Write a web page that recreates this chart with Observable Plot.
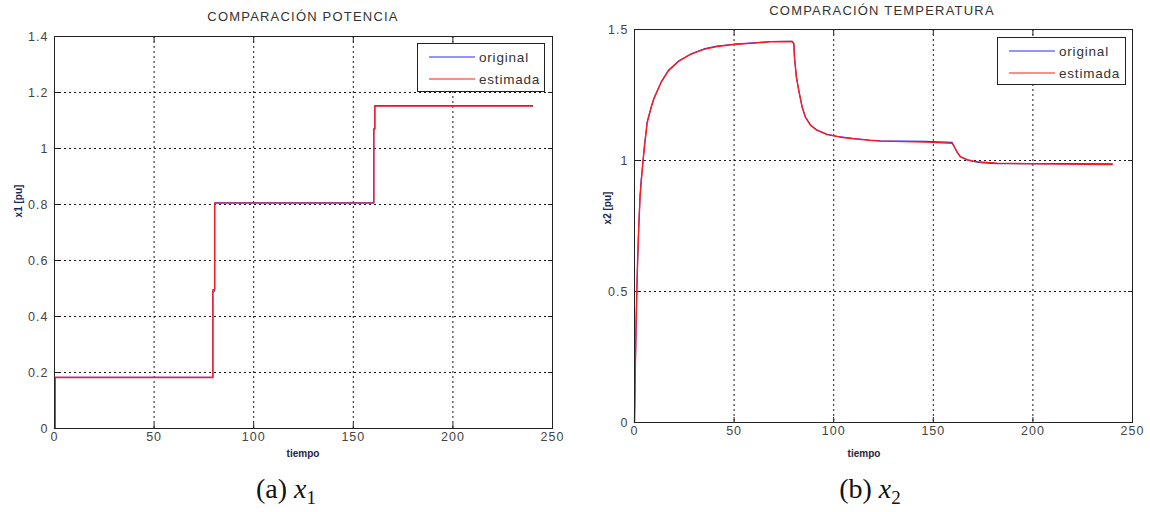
<!DOCTYPE html>
<html>
<head>
<meta charset="utf-8">
<script src="https://cdn.jsdelivr.net/npm/d3@7"></script>
<script src="https://cdn.jsdelivr.net/npm/@observablehq/plot@0.6"></script>
<style>
  body { margin: 0; background: #fff; width: 1150px; height: 512px; position: relative; overflow: hidden;
         font-family: "Liberation Sans", Arial, sans-serif; }
  .abs { position: absolute; white-space: nowrap; }
  .title { font-size: 13px; color: #333; letter-spacing: 1.2px; transform: translate(-50%, -50%); }
  .xlab { font-size: 10px; font-weight: bold; color: #1c2442; transform: translate(-50%, -50%); }
  .ylab { font-size: 10px; font-weight: bold; color: #1c2a55; transform: translate(-50%, -50%) rotate(-90deg); }
  .cap { font-family: "Liberation Serif", "DejaVu Serif", serif; font-size: 28px; color: #111; transform: translate(-50%, -50%); }
  .cap sub { font-size: 19px; font-style: normal; vertical-align: -6px; }
  .legend { position: absolute; background: #fff; border: 1px solid #222; box-sizing: border-box; }
  .legend svg { position: absolute; left: 0; top: 0; }
  .panel { position: absolute; top: 0; }
</style>
</head>
<body>
<div id="left" class="panel" style="left:0"></div>
<div id="right" class="panel" style="left:575px"></div>
<script>
// Shared tick values
const timeTicks = [0, 50, 100, 150, 200, 250];
const powerTicks = [0, 0.2, 0.4, 0.6, 0.8, 1, 1.2, 1.4];
const tempTicks = [0, 0.5, 1, 1.5];

// x1 (potencia): step changes at t = 80 and t = 160
const powerTime      = [0, 0.3,   79.5,  80.4,  160.3, 160.8, 240];
const powerOriginal  = [0, 0.183, 0.49,  0.806, 1.07,  1.153, 1.153];
const powerEstimated = [0, 0.182, 0.496, 0.805, 1.07,  1.152, 1.152];

// x2 (temperatura)
const tempTime = [0, 0.4, 0.8, 1.2, 1.6, 2.1, 2.8, 3.4, 4.3, 5.0, 6.4, 8.5, 9.7, 13.4, 17.2, 22.3, 28.1,
  34.8, 41.5, 49.9, 59.9, 68.3, 79.2, 80.0, 80.3, 81.3, 82.5, 84.2, 85.8, 88.4, 91.7, 96.7, 103.4,
  110, 118, 123.5, 146.1, 159.5, 160.6, 162, 163.6, 167, 170.3, 173.7, 182, 214, 239.8];
const tempOriginal = [0, 0.2, 0.37, 0.51, 0.62, 0.74, 0.87, 0.93, 1.0, 1.06, 1.148, 1.207, 1.237, 1.3, 1.346,
  1.381, 1.406, 1.426, 1.437, 1.444, 1.449, 1.454, 1.455, 1.446, 1.393, 1.316, 1.265, 1.202, 1.166, 1.135,
  1.116, 1.1, 1.09, 1.084, 1.078, 1.075, 1.073, 1.069, 1.052, 1.031, 1.014, 1.002, 0.996, 0.992, 0.988,
  0.988, 0.987];
const tempEstimated = [0, 0.21, 0.38, 0.52, 0.63, 0.74, 0.86, 0.92, 1.0, 1.05, 1.146, 1.206, 1.235, 1.299,
  1.344, 1.379, 1.405, 1.424, 1.435, 1.443, 1.448, 1.453, 1.454, 1.445, 1.394, 1.318, 1.267, 1.203, 1.165,
  1.134, 1.115, 1.099, 1.089, 1.083, 1.077, 1.074, 1.07, 1.066, 1.051, 1.032, 1.015, 1.003, 0.997, 0.994,
  0.99, 0.986, 0.985];

const seriesNames = ["original", "estimada"];
const seriesColors = ["#2a2aff", "#ff1a1a"];

const toRows = (t, v) => t.map((x, i) => ({t: x, v: v[i]}));
const fmt = d => String(+d.toFixed(2));

function panel({yTicks, yDomain, original, estimated, curve, margins}) {
  const grid = {stroke: "#000", strokeOpacity: 0.9, strokeDasharray: "2,3", strokeWidth: 1};
  return Plot.plot({
    width: 575,
    height: 470,
    ...margins,
    x: {domain: [0, 250], ticks: timeTicks},
    y: {domain: yDomain, ticks: yTicks},
    style: {fontFamily: "Liberation Sans, Arial, sans-serif", fontSize: "12.5px", color: "#444",
            background: "transparent", letterSpacing: "1px"},
    marks: [
      Plot.gridX(timeTicks.slice(1, -1), grid),
      Plot.gridY(yTicks.slice(1, -1), grid),
      Plot.axisX(timeTicks, {anchor: "bottom", tickSize: -5, tickPadding: 9, label: null, tickFormat: fmt, stroke: "#222"}),
      Plot.axisX(timeTicks, {anchor: "top", tickSize: -5, label: null, tickFormat: () => "", stroke: "#222"}),
      Plot.axisY(yTicks, {anchor: "left", tickSize: -5, tickPadding: 11, label: null, tickFormat: fmt, stroke: "#222"}),
      Plot.axisY(yTicks, {anchor: "right", tickSize: -5, label: null, tickFormat: () => "", stroke: "#222"}),
      Plot.line(original, {x: "t", y: "v", curve, stroke: seriesColors[0], strokeWidth: 1.1}),
      Plot.line(estimated, {x: "t", y: "v", curve, stroke: seriesColors[1], strokeWidth: 1.4}),
      Plot.frame({stroke: "#222", strokeWidth: 1})
    ]
  });
}

document.getElementById("left").append(panel({
  yTicks: powerTicks, yDomain: [0, 1.4],
  original: toRows(powerTime, powerOriginal),
  estimated: toRows(powerTime, powerEstimated),
  curve: "step-after",
  margins: {marginLeft: 54, marginRight: 23, marginTop: 36, marginBottom: 42}
}));

document.getElementById("right").append(panel({
  yTicks: tempTicks, yDomain: [0, 1.5],
  original: toRows(tempTime, tempOriginal),
  estimated: toRows(tempTime, tempEstimated),
  curve: "linear",
  margins: {marginLeft: 59, marginRight: 18, marginTop: 29, marginBottom: 48}
}));

// Text around the plots
function addText(cls, html, x, y) {
  const d = document.createElement("div");
  d.className = "abs " + cls;
  d.style.left = x + "px";
  d.style.top = y + "px";
  d.innerHTML = html;
  document.body.append(d);
}
addText("title", "COMPARACIÓN POTENCIA", 303, 16);
addText("title", "COMPARACIÓN TEMPERATURA", 882, 10);
addText("ylab", "x1 [pu]", 18, 201);
addText("ylab", "x2 [pu]", 607, 208);
addText("xlab", "tiempo", 303, 453);
addText("xlab", "tiempo", 864, 453);
addText("cap", "(a)&nbsp;<i>x</i><sub>1</sub>", 286, 491);
addText("cap", "(b)&nbsp;<i>x</i><sub>2</sub>", 870, 491);

// Legends
function legend(x, y, w, h) {
  const box = document.createElement("div");
  box.className = "legend";
  Object.assign(box.style, {left: x + "px", top: y + "px", width: w + "px", height: h + "px"});
  const svg = d3.create("svg").attr("width", w).attr("height", h);
  seriesNames.forEach((name, i) => {
    const cy = 13 + i * 22;
    svg.append("line").attr("x1", 11).attr("x2", 57).attr("y1", cy).attr("y2", cy)
      .attr("stroke", seriesColors[i]).attr("stroke-width", 1.2);
    svg.append("text").attr("x", 61).attr("y", cy + 4.5).text(name)
      .attr("font-family", "Liberation Sans, Arial, sans-serif").attr("font-size", 13.5)
      .attr("letter-spacing", "0.8px").attr("fill", "#333");
  });
  box.append(svg.node());
  document.body.append(box);
}
legend(417, 43, 128, 49);
legend(997, 37, 129, 48);
</script>
</body>
</html>
